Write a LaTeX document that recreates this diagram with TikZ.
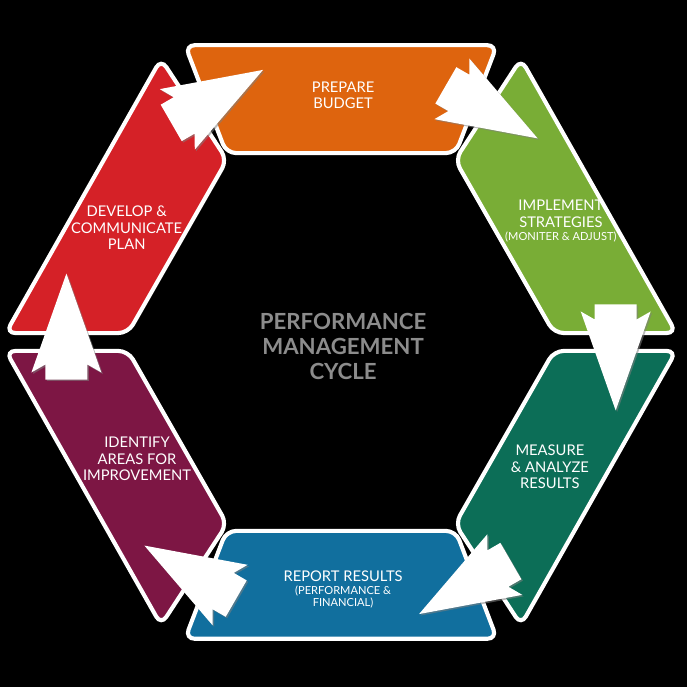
\documentclass[tikz,border=0pt]{standalone}
\usepackage{fontspec}
\newfontfamily\latofont{Lato}
\usetikzlibrary{shadows}
\usepackage{xcolor}

\definecolor{orangeseg}{HTML}{DE640E}
\definecolor{greenseg}{HTML}{79AD36}
\definecolor{tealseg}{HTML}{0C6E57}
\definecolor{blueseg}{HTML}{116F9E}
\definecolor{maroonseg}{HTML}{7D1644}
\definecolor{redseg}{HTML}{D52127}

\begin{document}
\begin{tikzpicture}[
  seg/.style = {draw=white, line width=1.7pt, rounded corners=4pt},
  lbl/.style = {text=white, align=center, inner sep=0, font=\latofont\fontsize{6.1}{6.8}\selectfont},
  cyclearrow/.style = {fill=white, drop shadow={opacity=.55, shadow xshift=.6pt, shadow yshift=-.6pt}}
]
\fill[black] (-4.964,-5.022) rectangle (5.036,4.978);
\useasboundingbox (-4.964,-5.022) rectangle (5.036,4.978);

% the six stages
\draw[seg, fill=orangeseg] (-2.27,4.32) -- (2.27,4.32) -- (1.67,2.75) -- (-1.67,2.75) -- cycle;
\draw[seg, fill=greenseg] (2.62,4.12) -- (4.88,0.13) -- (3.10,0.13) -- (1.66,2.65) -- cycle;
\draw[seg, fill=tealseg] (2.62,-4.12) -- (4.88,-0.13) -- (3.10,-0.13) -- (1.66,-2.65) -- cycle;
\draw[seg, fill=blueseg] (-2.27,-4.32) -- (2.27,-4.32) -- (1.67,-2.75) -- (-1.67,-2.75) -- cycle;
\draw[seg, fill=maroonseg] (-2.62,-4.12) -- (-4.88,-0.13) -- (-3.10,-0.13) -- (-1.66,-2.65) -- cycle;
\draw[seg, fill=redseg] (-2.62,4.12) -- (-4.88,0.13) -- (-3.10,0.13) -- (-1.66,2.65) -- cycle;

\node[lbl] (prep) at (0.03,3.59) {PREPARE\\BUDGET};
\node[lbl] (impl) at (3.2,1.76) {IMPLEMENT\\STRATEGIES\\[-1.5pt]{\fontsize{4.6}{5.2}\selectfont (MONITER \& ADJUST)}};
\node[lbl] (meas) at (3.04,-1.82) {MEASURE\\\& ANALYZE\\RESULTS};
\node[lbl] (rept) at (0.03,-3.60) {REPORT RESULTS\\[-1.5pt]{\fontsize{4.6}{5.2}\selectfont (PERFORMANCE \&}\\[-1.8pt]{\fontsize{4.6}{5.2}\selectfont FINANCIAL)}};
\node[lbl] (iden) at (-2.97,-1.70) {IDENTIFY\\AREAS FOR\\IMPROVEMENT};
\node[lbl] (devl) at (-3.12,1.66) {DEVELOP \&\\COMMUNICATE\\PLAN};

\node[align=center, inner sep=0, text=black!45!white, font=\latofont\bfseries\fontsize{9.2}{10.4}\selectfont] (title) at (0.03,-0.07) {PERFORMANCE\\MANAGEMENT\\CYCLE};

% arrows between the stages
\path[cyclearrow, shift={(166:4.12)}, rotate=90] (0,0) -- (-1.441,0.509) -- (-1.325,0.306) -- (-1.543,0.306) -- (-1.543,-0.306) -- (-1.325,-0.306) -- (-1.441,-0.509) -- cycle;
\path[cyclearrow, shift={(106:4.12)}, rotate=30] (0,0) -- (-1.441,0.509) -- (-1.325,0.306) -- (-1.543,0.306) -- (-1.543,-0.306) -- (-1.325,-0.306) -- (-1.441,-0.509) -- cycle;
\path[cyclearrow, shift={(46:4.12)}, rotate=-30] (0,0) -- (-1.441,0.509) -- (-1.325,0.306) -- (-1.543,0.306) -- (-1.543,-0.306) -- (-1.325,-0.306) -- (-1.441,-0.509) -- cycle;
\path[cyclearrow, shift={(-14:4.12)}, rotate=-90] (0,0) -- (-1.441,0.509) -- (-1.325,0.306) -- (-1.543,0.306) -- (-1.543,-0.306) -- (-1.325,-0.306) -- (-1.441,-0.509) -- cycle;
\path[cyclearrow, shift={(-74:4.12)}, rotate=-150] (0,0) -- (-1.441,0.509) -- (-1.325,0.306) -- (-1.543,0.306) -- (-1.543,-0.306) -- (-1.325,-0.306) -- (-1.441,-0.509) -- cycle;
\path[cyclearrow, shift={(-134:4.12)}, rotate=150] (0,0) -- (-1.441,0.509) -- (-1.325,0.306) -- (-1.543,0.306) -- (-1.543,-0.306) -- (-1.325,-0.306) -- (-1.441,-0.509) -- cycle;

\end{tikzpicture}
\end{document}
